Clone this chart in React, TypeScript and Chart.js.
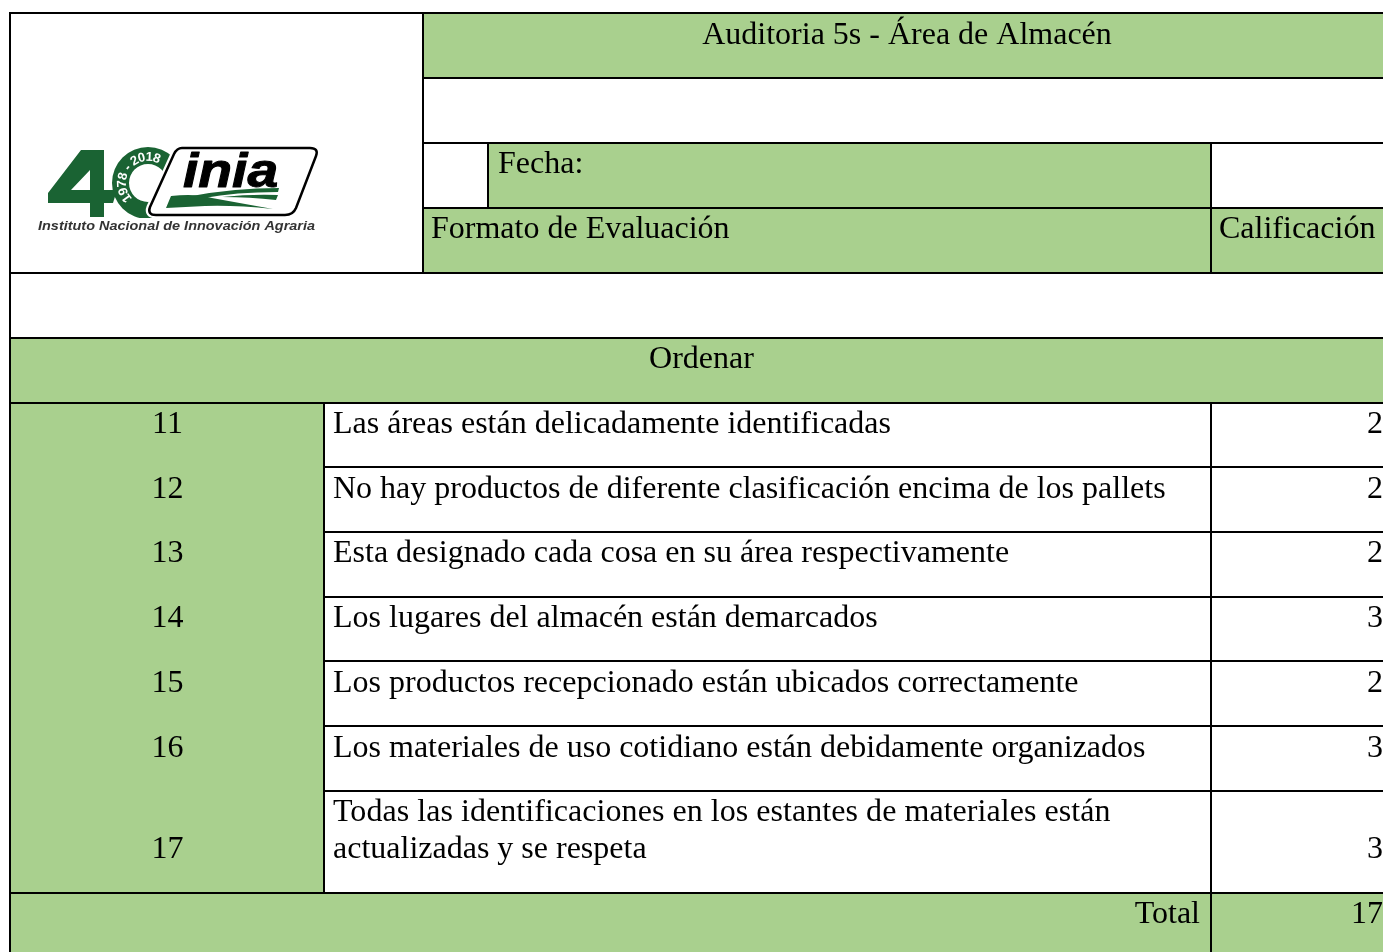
import React, { useEffect, useRef } from "react";
import { Chart, registerables } from "chart.js";

Chart.register(...registerables);

const itemNumbers = ["11", "12", "13", "14", "15", "16", "17"];
const itemTexts = [
  ["Las áreas están delicadamente identificadas"],
  ["No hay productos de diferente clasificación encima de los pallets"],
  ["Esta designado cada cosa en su área respectivamente"],
  ["Los lugares del almacén están demarcados"],
  ["Los productos recepcionado están ubicados correctamente"],
  ["Los materiales de uso cotidiano están debidamente organizados"],
  ["Todas las identificaciones en los estantes de materiales están", "actualizadas y se respeta"],
];
const scores = [2, 2, 2, 3, 2, 3, 3];
const totalScore = 17;
const titleText = "Auditoria 5s - Área de Almacén";
const dateText = "Fecha:";
const formatText = "Formato de Evaluación";
const gradeText = "Calificación";
const sectionText = "Ordenar";
const totalText = "Total";
const logoYears = "1978 - 2018";
const logoName = "inia";
const logoCaption = "Instituto Nacional de Innovación Agraria";

const W = 1383;
const H = 952;
const GREEN = "#A9D08E";
const LOGO_GREEN = "#1a6333";
const rowBaselines = [433, 498, 562, 627, 692, 757, 858];
const greenCells = [
  [423, 13, W, 78],
  [488, 143, 1211, 208],
  [423, 208, W, 273],
  [10, 338, W, 403],
  [10, 403, 324, 893],
  [10, 893, W, H],
];
const hLines = [
  [13, 10, W], [78, 423, W], [143, 423, W], [208, 423, W], [273, 10, W],
  [338, 10, W], [403, 10, W], [467, 324, W], [532, 324, W], [597, 324, W],
  [661, 324, W], [726, 324, W], [791, 324, W], [893, 10, W],
];
const vLines = [
  [10, 13, H], [423, 13, 273], [488, 143, 208], [1211, 143, 273], [1211, 403, H], [324, 403, 893],
];

const tablePlugin = {
  id: "tablePlugin",
  afterDatasetsDraw(chart: any) {
    const { ctx, scales } = chart;
    const X = (v: number) => scales.x.getPixelForValue(v);
    const Y = (v: number) => scales.y.getPixelForValue(v);
    ctx.save();

    ctx.fillStyle = GREEN;
    for (const [a, b, c, d] of greenCells) ctx.fillRect(X(a), Y(b), X(c) - X(a), Y(d) - Y(b));

    ctx.fillStyle = "#000";
    ctx.font = '32px "Liberation Serif"';
    ctx.textBaseline = "alphabetic";
    const text = (s: string, x: number, y: number, align: CanvasTextAlign = "left") => {
      ctx.textAlign = align;
      ctx.fillText(s, X(x), Y(y));
    };
    text(titleText, 907, 44, "center");
    text(dateText, 498, 173);
    text(formatText, 431, 238);
    text(gradeText, 1219, 238);
    text(sectionText, 701.5, 368, "center");
    itemNumbers.forEach((n, i) => text(n, 167.5, rowBaselines[i], "center"));
    itemTexts.forEach((lines, i) => {
      lines.forEach((l, k) => {
        ctx.letterSpacing = lines.length > 1 && k === 0 ? "0.05px" : "0px";
        text(l, 333, rowBaselines[i] - (lines.length - 1 - k) * 37);
      });
    });
    ctx.letterSpacing = "0px";
    const meta = chart.getDatasetMeta(0);
    scores.forEach((s, i) => {
      ctx.textAlign = "right";
      ctx.fillText(String(s), meta.data[i].x, meta.data[i].y);
    });
    text(totalText, 1200, 923, "right");
    text(String(totalScore), W, 923, "right");

    ctx.strokeStyle = "#000";
    ctx.lineWidth = 2;
    ctx.beginPath();
    for (const [y, a, b] of hLines) { ctx.moveTo(X(a) - 1, Y(y)); ctx.lineTo(X(b), Y(y)); }
    for (const [x, a, b] of vLines) { ctx.moveTo(X(x), Y(a)); ctx.lineTo(X(x), Y(b)); }
    ctx.stroke();

    // logo
    ctx.save();
    ctx.beginPath();
    ctx.rect(X(12), Y(145), 400, 73);
    ctx.clip();
    ctx.fillStyle = LOGO_GREEN;
    ctx.beginPath();
    ctx.arc(X(148), Y(183), 36, 0, Math.PI * 2);
    ctx.arc(X(148), Y(183), 19, 0, Math.PI * 2, true);
    ctx.fill();
    ctx.fillStyle = "#fff";
    ctx.font = 'bold 13px "Liberation Sans"';
    ctx.textAlign = "center";
    const chars = logoYears.split("");
    const start = (136 * Math.PI) / 180;
    const end = (298 * Math.PI) / 180;
    const widths = chars.map((c) => ctx.measureText(c).width);
    const sum = widths.reduce((a, b) => a + b, 0);
    let acc = 0;
    chars.forEach((c, i) => {
      const ang = start + ((acc + widths[i] / 2) / sum) * (end - start);
      acc += widths[i];
      ctx.save();
      ctx.translate(X(148) + 22 * Math.cos(ang), Y(183) + 22 * Math.sin(ang));
      ctx.rotate(ang + Math.PI / 2);
      ctx.fillText(c, 0, 0);
      ctx.restore();
    });
    ctx.restore();

    ctx.fillStyle = LOGO_GREEN;
    ctx.beginPath();
    const four = [[81,150],[104,150],[104,190],[117,190],[113,203],[104,203],[104,217],[90,217],[90,203],[48,203],[48,193]];
    four.forEach(([x, y], i) => (i ? ctx.lineTo(X(x), Y(y)) : ctx.moveTo(X(x), Y(y))));
    ctx.closePath();
    [[90,190],[90,170],[71,190]].forEach(([x, y], i) => (i ? ctx.lineTo(X(x), Y(y)) : ctx.moveTo(X(x), Y(y))));
    ctx.closePath();
    ctx.fill("evenodd");

    const box = new Path2D();
    box.moveTo(X(182), Y(148));
    box.lineTo(X(310), Y(148));
    box.quadraticCurveTo(X(319), Y(148), X(316), Y(156));
    box.lineTo(X(296), Y(208));
    box.quadraticCurveTo(X(293), Y(215), X(285), Y(215));
    box.lineTo(X(156), Y(215));
    box.quadraticCurveTo(X(147), Y(215), X(150), Y(207));
    box.lineTo(X(174), Y(154));
    box.quadraticCurveTo(X(177), Y(148), X(182), Y(148));
    box.closePath();
    ctx.fillStyle = "#fff";
    ctx.strokeStyle = "#fff";
    ctx.lineWidth = 7;
    ctx.stroke(box);
    ctx.fill(box);
    ctx.strokeStyle = "#000";
    ctx.lineWidth = 2.5;
    ctx.stroke(box);

    ctx.save();
    ctx.fillStyle = "#000";
    ctx.strokeStyle = "#000";
    ctx.lineWidth = 1;
    ctx.lineJoin = "round";
    ctx.font = 'italic bold 48px "Liberation Sans"';
    ctx.textAlign = "left";
    ctx.translate(X(183), Y(187));
    ctx.scale(1.15, 1);
    ctx.fillText(logoName, 0, 0);
    ctx.strokeText(logoName, 0, 0);
    ctx.restore();

    ctx.fillStyle = LOGO_GREEN;
    const path = (f: (p: Path2D) => void) => { const p = new Path2D(); f(p); ctx.fill(p); };
    path((p) => {
      p.moveTo(X(192), Y(196));
      p.quadraticCurveTo(X(235), Y(188), X(279), Y(188));
      p.lineTo(X(278), Y(192));
      p.quadraticCurveTo(X(235), Y(192), X(204), Y(198));
      p.closePath();
    });
    path((p) => {
      p.moveTo(X(222), Y(197));
      p.quadraticCurveTo(X(250), Y(194), X(278), Y(195));
      p.lineTo(X(276), Y(200));
      p.quadraticCurveTo(X(250), Y(197), X(222), Y(197));
      p.closePath();
    });
    path((p) => {
      p.moveTo(X(171), Y(196));
      p.quadraticCurveTo(X(195), Y(193), X(212), Y(198));
      p.quadraticCurveTo(X(245), Y(204), X(273), Y(209));
      p.quadraticCurveTo(X(235), Y(205), X(205), Y(206));
      p.lineTo(X(166), Y(208));
      p.closePath();
    });

    ctx.fillStyle = "#333";
    ctx.font = 'italic bold 12px "Liberation Sans"';
    const w = ctx.measureText(logoCaption).width;
    ctx.save();
    ctx.translate(X(38), Y(230));
    ctx.scale(277 / w, 1);
    ctx.textAlign = "left";
    ctx.fillText(logoCaption, 0, 0);
    ctx.restore();

    ctx.restore();
  },
};

export default function App() {
  const ref = useRef<HTMLCanvasElement>(null);
  useEffect(() => {
    document.body.style.margin = "0";
    const chart = new Chart(ref.current as HTMLCanvasElement, {
      type: "scatter",
      data: {
        datasets: [
          {
            label: gradeText,
            data: scores.map((s, i) => ({ x: W, y: rowBaselines[i], score: s })) as any,
            pointRadius: 0,
          },
        ],
      },
      options: {
        animation: false,
        responsive: false,
        layout: { padding: 0 },
        plugins: { legend: { display: false }, title: { display: false }, tooltip: { enabled: false } },
        scales: {
          x: { type: "linear", min: 0, max: W, display: false },
          y: { type: "linear", min: 0, max: H, reverse: true, display: false },
        },
      },
      plugins: [tablePlugin],
    });
    return () => chart.destroy();
  }, []);
  return <canvas ref={ref} width={W} height={H} style={{ display: "block" }} />;
}
